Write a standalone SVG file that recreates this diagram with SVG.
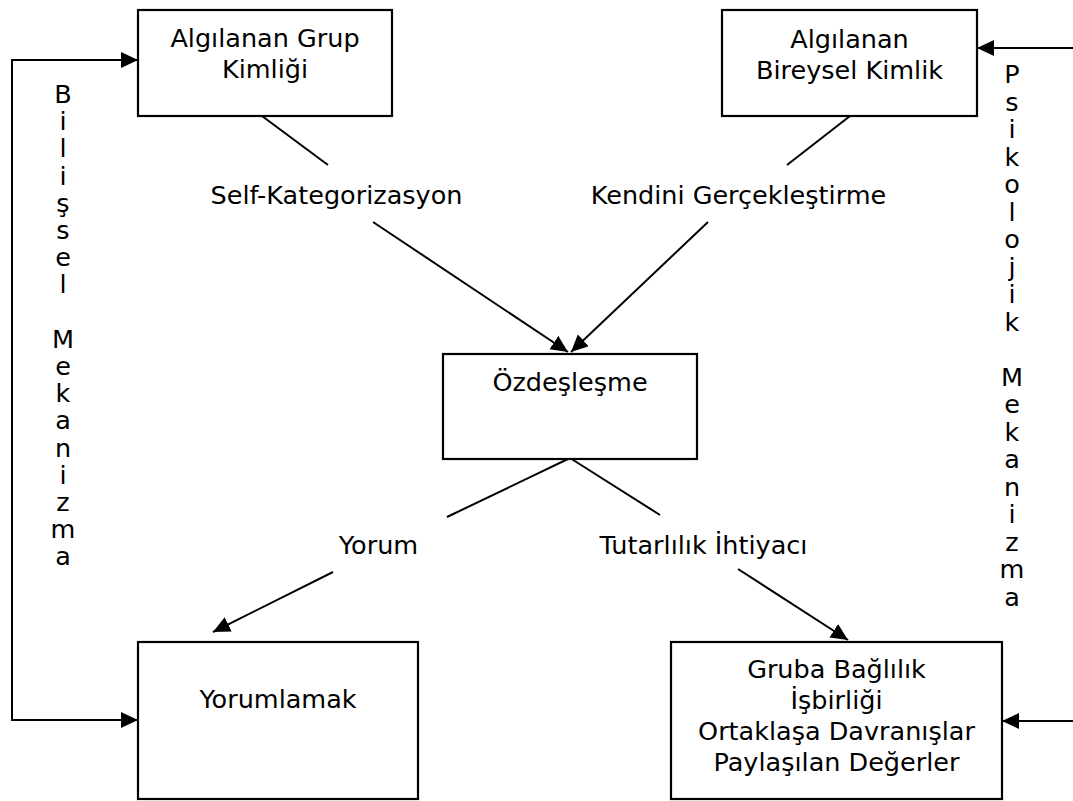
<svg xmlns="http://www.w3.org/2000/svg" width="1073" height="801" viewBox="0 0 1073 801">
<defs>
<marker id="ah" markerUnits="userSpaceOnUse" markerWidth="20" markerHeight="18" refX="17" refY="8" orient="auto-start-reverse">
<path d="M0,0 L17,8 L0,16 z" fill="#000"/>
</marker>
<style>
.box{fill:#fff;stroke:#000;stroke-width:2.2}
.t{font-family:"DejaVu Sans",Verdana,sans-serif;font-size:25.5px;fill:#000;text-anchor:middle}
.c{fill:none;stroke:#000;stroke-width:2}
.a{fill:none;stroke:#000;stroke-width:2;marker-end:url(#ah)}
</style>
</defs>
<rect width="1073" height="801" fill="#fff"/>
<g id="connectors">
<path class="c" d="M138,720 L12,720 L12,60 L138,60" style="marker-start:url(#ah);marker-end:url(#ah)"/>
<path class="a" d="M1073,48 L977,48"/>
<path class="a" d="M1073,721 L1002,721"/>
<path class="c" d="M262,116 L328,165"/>
<path class="c" d="M850,116 L787,165"/>
<path class="a" d="M373,222 L568,352"/>
<path class="a" d="M708,222 L571,352"/>
<path class="c" d="M570,458 L447,517"/>
<path class="c" d="M570,458 L660,515"/>
<path class="a" d="M333,572 L213,632"/>
<path class="a" d="M738,569 L848,640"/>
</g>
<g id="labels">
<text class="t" x="336.5" y="204">Self-Kategorizasyon</text>
<text class="t" x="738.5" y="204">Kendini Gerçekleştirme</text>
<text class="t" x="378.5" y="554">Yorum</text>
<text class="t" x="703.5" y="554">Tutarlılık İhtiyacı</text>
<text class="t" x="63"><tspan x="63" y="103">B</tspan><tspan x="63" dy="27.2">i</tspan><tspan x="63" dy="27.2">l</tspan><tspan x="63" dy="27.2">i</tspan><tspan x="63" dy="27.2">ş</tspan><tspan x="63" dy="27.2">s</tspan><tspan x="63" dy="27.2">e</tspan><tspan x="63" dy="27.2">l</tspan><tspan x="63" dy="54.4">M</tspan><tspan x="63" dy="27.2">e</tspan><tspan x="63" dy="27.2">k</tspan><tspan x="63" dy="27.2">a</tspan><tspan x="63" dy="27.2">n</tspan><tspan x="63" dy="27.2">i</tspan><tspan x="63" dy="27.2">z</tspan><tspan x="63" dy="27.2">m</tspan><tspan x="63" dy="27.2">a</tspan></text>
<text class="t" x="1012"><tspan x="1012" y="83">P</tspan><tspan x="1012" dy="27.5">s</tspan><tspan x="1012" dy="27.5">i</tspan><tspan x="1012" dy="27.5">k</tspan><tspan x="1012" dy="27.5">o</tspan><tspan x="1012" dy="27.5">l</tspan><tspan x="1012" dy="27.5">o</tspan><tspan x="1012" dy="27.5">j</tspan><tspan x="1012" dy="27.5">i</tspan><tspan x="1012" dy="27.5">k</tspan><tspan x="1012" dy="55">M</tspan><tspan x="1012" dy="27.5">e</tspan><tspan x="1012" dy="27.5">k</tspan><tspan x="1012" dy="27.5">a</tspan><tspan x="1012" dy="27.5">n</tspan><tspan x="1012" dy="27.5">i</tspan><tspan x="1012" dy="27.5">z</tspan><tspan x="1012" dy="27.5">m</tspan><tspan x="1012" dy="27.5">a</tspan></text>
</g>
<g id="grup">
<rect class="box" x="138" y="10" width="254" height="106"/>
<text class="t" x="265" y="47">Algılanan Grup</text>
<text class="t" x="265" y="78">Kimliği</text>
</g>
<g id="bireysel">
<rect class="box" x="722" y="10" width="255" height="106"/>
<text class="t" x="849.5" y="48">Algılanan</text>
<text class="t" x="849.5" y="79">Bireysel Kimlik</text>
</g>
<g id="ozdeslesme">
<rect class="box" x="443" y="354" width="254" height="105"/>
<text class="t" x="570" y="391">Özdeşleşme</text>
</g>
<g id="yorumlamak">
<rect class="box" x="138" y="642" width="280" height="157"/>
<text class="t" x="278" y="708">Yorumlamak</text>
</g>
<g id="gruba">
<rect class="box" x="671" y="642" width="331" height="157"/>
<text class="t" x="836.5" y="678">Gruba Bağlılık</text>
<text class="t" x="836.5" y="709">İşbirliği</text>
<text class="t" x="836.5" y="740">Ortaklaşa Davranışlar</text>
<text class="t" x="836.5" y="771">Paylaşılan Değerler</text>
</g>
</svg>
